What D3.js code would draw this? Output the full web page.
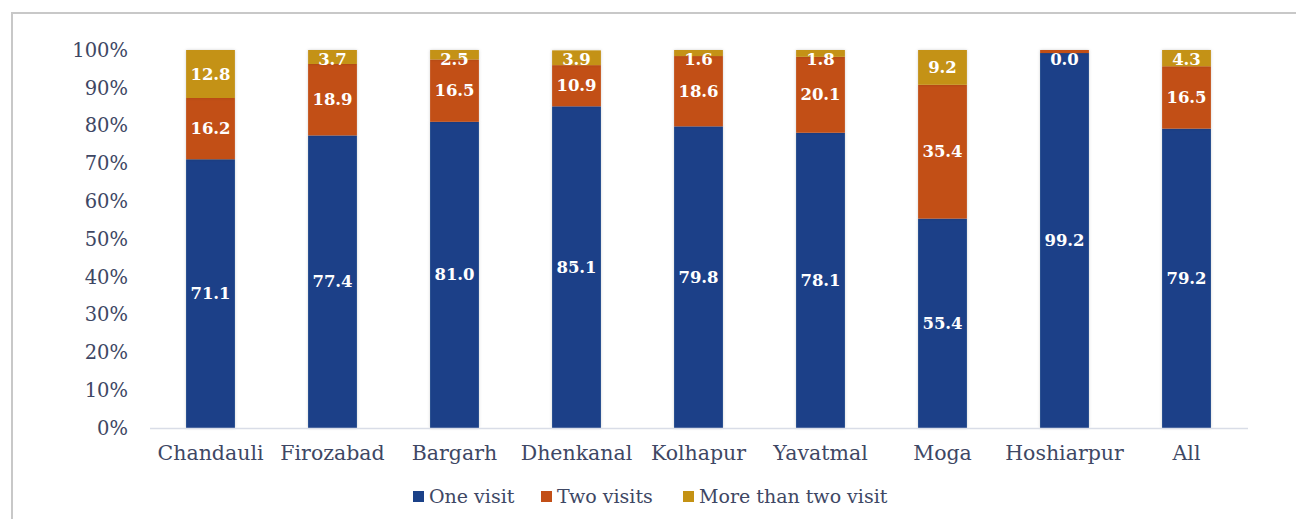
<!DOCTYPE html>
<html>
<head>
<meta charset="utf-8">
<script src="https://cdn.jsdelivr.net/npm/d3@7/dist/d3.min.js"></script>
<style>
  html, body { margin: 0; padding: 0; background: #ffffff; }
  svg { display: block; }
</style>
</head>
<body>
<div id="chart"></div>
<script>
// ---- Data ----
const categories = ["Chandauli", "Firozabad", "Bargarh", "Dhenkanal", "Kolhapur", "Yavatmal", "Moga", "Hoshiarpur", "All"];
const oneVisit      = [71.1, 77.4, 81.0, 85.1, 79.8, 78.1, 55.4, 99.2, 79.2];
const twoVisits     = [16.2, 18.9, 16.5, 10.9, 18.6, 20.1, 35.4, 0.8, 16.5];
const moreThanTwo   = [12.8, 3.7, 2.5, 3.9, 1.6, 1.8, 9.2, 0.0, 4.3];
const seriesNames   = ["One visit", "Two visits", "More than two visit"];
const yTicks        = [0, 10, 20, 30, 40, 50, 60, 70, 80, 90, 100];
// labels that the original chart does not show
const hiddenLabels  = [["Hoshiarpur", "Two visits"]];

// ---- Layout ----
const W = 1296, H = 519;
const colors = ["#1b4188", "#c24f17", "#c49214"];
const textColor = "#3e4764";
const fontFamily = "'DejaVu Serif', Georgia, serif";

const svg = d3.select("#chart").append("svg")
  .attr("width", W).attr("height", H);

const defs = svg.append("defs");
const f = defs.append("filter").attr("id", "shadow")
  .attr("x", "-20%").attr("y", "-5%").attr("width", "140%").attr("height", "110%");
f.append("feDropShadow").attr("dx", 0).attr("dy", 0).attr("stdDeviation", 1.5)
  .attr("flood-color", "#000").attr("flood-opacity", 0.18);

// outer frame
svg.append("line").attr("x1", 12).attr("x2", W).attr("y1", 13).attr("y2", 13)
  .attr("stroke", "#c8c8c8").attr("stroke-width", 2);
svg.append("line").attr("x1", 12).attr("x2", 12).attr("y1", 12).attr("y2", H)
  .attr("stroke", "#c8c8c8").attr("stroke-width", 2);

const x = d3.scaleBand().domain(categories).range([149.5, 1247.5]).paddingInner(0.6).paddingOuter(0.3);
const y = d3.scaleLinear().domain([0, 100]).range([428, 50]);

// stack data
const rows = categories.map((c, i) => ({
  cat: c,
  "One visit": oneVisit[i],
  "Two visits": twoVisits[i],
  "More than two visit": moreThanTwo[i]
}));
const stacked = d3.stack().keys(seriesNames)(rows);

// y tick labels
const yAxis = d3.axisLeft(y).tickValues(yTicks).tickFormat(d => d + "%").tickSize(0).tickPadding(0);
const yg = svg.append("g").attr("transform", "translate(128,0)").call(yAxis);
yg.select(".domain").remove();
yg.selectAll("text").attr("fill", textColor).style("font-family", fontFamily).style("font-size", "19.5px");

// bars
const layer = svg.append("g");
stacked.forEach((s, si) => {
  layer.append("g").attr("fill", colors[si]).attr("filter", "url(#shadow)")
    .selectAll("rect").data(s).join("rect")
    .attr("x", d => x(d.data.cat))
    .attr("width", x.bandwidth())
    .attr("y", d => y(Math.min(d[1], 100)))
    .attr("height", d => Math.max(0, y(d[0]) - y(Math.min(d[1], 100))));
});

// x axis
const xAxis = d3.axisBottom(x).tickSize(0).tickPadding(0);
const xg = svg.append("g").attr("transform", "translate(0,428)").call(xAxis);
xg.select(".domain").attr("stroke", "#d9dde7").attr("stroke-width", 1.5);
xg.selectAll("text").attr("fill", textColor).attr("dy", null).attr("y", 32)
  .style("font-family", fontFamily).style("font-size", "20.5px");

// data labels
const lab = svg.append("g");
stacked.forEach((s, si) => {
  s.forEach(d => {
    const hide = hiddenLabels.some(h => h[0] === d.data.cat && h[1] === s.key);
    if (hide) return;
    const v = d.data[s.key];
    let cy = (y(d[0]) + y(Math.min(d[1], 100))) / 2;
    cy = Math.max(cy, y(100) + 9);
    lab.append("text")
      .attr("x", x(d.data.cat) + x.bandwidth() / 2)
      .attr("y", cy)
      .attr("text-anchor", "middle")
      .attr("dominant-baseline", "central")
      .attr("fill", "#ffffff")
      .style("font-family", fontFamily)
      .style("font-weight", "bold")
      .style("font-size", "16.5px")
      .text(v.toFixed(1));
  });
});

// legend
const legendItems = [
  { name: seriesNames[0], sx: 413 },
  { name: seriesNames[1], sx: 541 },
  { name: seriesNames[2], sx: 683 }
];
const lg = svg.append("g");
legendItems.forEach((it, i) => {
  lg.append("rect").attr("x", it.sx).attr("y", 491).attr("width", 11).attr("height", 11).attr("fill", colors[i]);
  lg.append("text").attr("x", it.sx + 16).attr("y", 503)
    .attr("fill", textColor).style("font-family", fontFamily).style("font-size", "19px")
    .text(it.name);
});
</script>
</body>
</html>
